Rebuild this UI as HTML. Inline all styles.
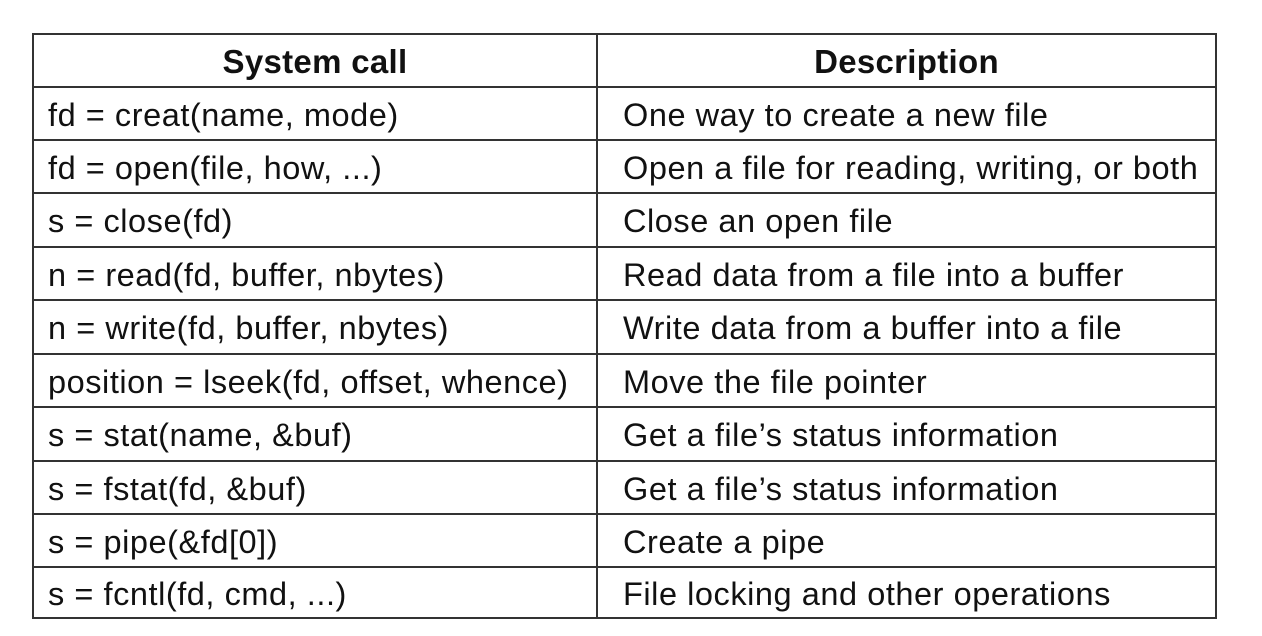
<!DOCTYPE html>
<html><head><style>
body{margin:0;width:1262px;height:636px;background:#fff;position:relative;overflow:hidden;font-family:"Liberation Sans",Arial,sans-serif;color:#111}
.h{position:absolute;height:0;border-top:2px solid #333}
.v{position:absolute;width:0;border-left:2px solid #333}
.t{position:absolute;font-size:32.5px;letter-spacing:0.55px;line-height:36px;white-space:nowrap}
.b{font-weight:bold;letter-spacing:0.3px;font-size:33px}
</style></head><body>
<div class="h" style="left:33px;width:1184px;top:33px"></div>
<div class="h" style="left:33px;width:1184px;top:86px"></div>
<div class="h" style="left:33px;width:1184px;top:139px"></div>
<div class="h" style="left:33px;width:1184px;top:192px"></div>
<div class="h" style="left:33px;width:1184px;top:246px"></div>
<div class="h" style="left:33px;width:1184px;top:299px"></div>
<div class="h" style="left:33px;width:1184px;top:353px"></div>
<div class="h" style="left:33px;width:1184px;top:406px"></div>
<div class="h" style="left:33px;width:1184px;top:460px"></div>
<div class="h" style="left:33px;width:1184px;top:513px"></div>
<div class="h" style="left:33px;width:1184px;top:566px"></div>
<div class="h" style="left:33px;width:1184px;top:617px"></div>
<div class="v" style="left:32px;top:33px;height:586px"></div>
<div class="v" style="left:596px;top:33px;height:586px"></div>
<div class="v" style="left:1215px;top:33px;height:586px"></div>

<div class="t b" style="left:33px;width:564px;text-align:center;top:44px">System call</div>
<div class="t b" style="left:597px;width:619px;text-align:center;top:44px">Description</div>

<div class="t" style="left:48px;top:97px">fd = creat(name, mode)</div>
<div class="t" style="left:48px;top:150px">fd = open(file, how, ...)</div>
<div class="t" style="left:48px;top:203px">s = close(fd)</div>
<div class="t" style="left:48px;top:257px">n = read(fd, buffer, nbytes)</div>
<div class="t" style="left:48px;top:310px">n = write(fd, buffer, nbytes)</div>
<div class="t" style="left:48px;top:364px">position = lseek(fd, offset, whence)</div>
<div class="t" style="left:48px;top:417px">s = stat(name, &amp;buf)</div>
<div class="t" style="left:48px;top:471px">s = fstat(fd, &amp;buf)</div>
<div class="t" style="left:48px;top:524px">s = pipe(&amp;fd[0])</div>
<div class="t" style="left:48px;top:576px">s = fcntl(fd, cmd, ...)</div>

<div class="t" style="left:623px;top:97px">One way to create a new file</div>
<div class="t" style="left:623px;top:150px">Open a file for reading, writing, or both</div>
<div class="t" style="left:623px;top:203px">Close an open file</div>
<div class="t" style="left:623px;top:257px">Read data from a file into a buffer</div>
<div class="t" style="left:623px;top:310px">Write data from a buffer into a file</div>
<div class="t" style="left:623px;top:364px">Move the file pointer</div>
<div class="t" style="left:623px;top:417px">Get a file’s status information</div>
<div class="t" style="left:623px;top:471px">Get a file’s status information</div>
<div class="t" style="left:623px;top:524px">Create a pipe</div>
<div class="t" style="left:623px;top:576px">File locking and other operations</div>
</body></html>
